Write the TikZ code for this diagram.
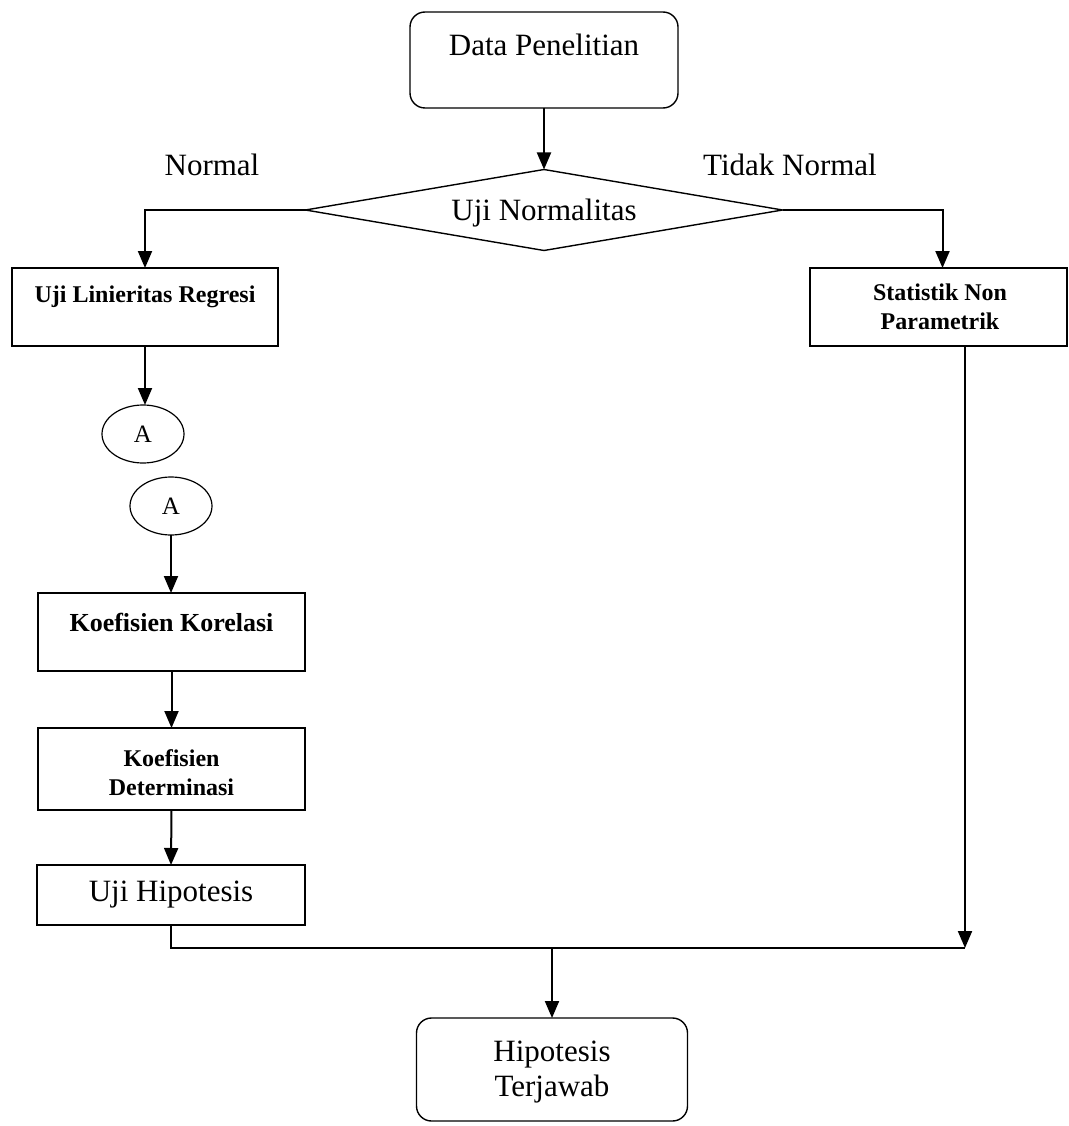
\documentclass[tikz,border=0pt]{standalone}
\usepackage{fontspec}
\setmainfont{Liberation Serif}
\usetikzlibrary{arrows.meta,shapes.geometric}
\tikzset{
  boxline/.style={draw=black, line width=1.4pt, inner sep=0pt, outer sep=0pt},
  sqbox/.style={boxline, rectangle},
  rbox/.style={boxline, rectangle, rounded corners=15pt},
  conn/.style={draw=black, line width=2pt},
  arr/.style={conn, -{Triangle[length=17pt,width=14pt]}},
  bigtxt/.style={inner sep=0pt, font=\fontsize{31}{35}\selectfont, align=center},
  boldtxt/.style={inner sep=0pt, font=\fontsize{24}{29}\selectfont\bfseries, align=center},
  connector/.style={boxline, ellipse, line width=1.2pt, minimum width=82pt, minimum height=58pt, font=\fontsize{25}{28}\selectfont}
}
\begin{document}
\begin{tikzpicture}[x=1pt,y=-1pt]
\useasboundingbox (0,0) rectangle (1068,1126);
% start
\node[rbox, minimum width=268pt, minimum height=96pt] (dp) at (544,60) {};
\node[bigtxt] (dpt) at (544,45) {Data Penelitian};
% decision
\node[boxline, diamond, minimum width=477pt, minimum height=81pt] (diam) at (544,210) {};
\node[bigtxt] (diamt) at (544,213) {Uji Normalitas};
\node[bigtxt] (lnormal) at (212,165) {Normal};
\node[bigtxt] (ltidak) at (790,165) {Tidak Normal};
% left column
\node[sqbox, minimum width=266pt, minimum height=78pt] (lin) at (145,307) {};
\node[boldtxt] (lint) at (145,297) {Uji Linieritas Regresi};
\node[connector] (a1) at (143,434) {A};
\node[connector] (a2) at (171,506) {A};
\node[sqbox, minimum width=267pt, minimum height=78pt] (kk) at (171.5,632) {};
\node[boldtxt, font=\fontsize{26}{30}\selectfont\bfseries] (kkt) at (171.5,622) {Koefisien Korelasi};
\node[sqbox, minimum width=267pt, minimum height=82pt] (kd) at (171.5,769) {};
\node[boldtxt] (kdt) at (171.5,773) {Koefisien\\Determinasi};
\node[sqbox, minimum width=268pt, minimum height=60pt] (uh) at (171,895) {};
\node[bigtxt] (uht) at (171,895) {Uji Hipotesis};
% right column
\node[sqbox, minimum width=257pt, minimum height=78pt] (snp) at (938.5,307) {};
\node[boldtxt] (snpt) at (940,307) {Statistik Non\\Parametrik};
% end
\node[rbox, minimum width=271pt, minimum height=103pt] (ht) at (552,1069.5) {};
\node[bigtxt] (htt) at (552,1072) {Hipotesis\\Terjawab};
% junction coordinates
\coordinate (m) at (552,948);
\coordinate (r) at (965,948);
% connectors
\draw[arr] (dp.south) -- (diam.north);
\draw[arr] (diam.west) -| (lin.north);
\draw[arr] (diam.east) -| ([xshift=4pt]snp.north);
\draw[arr] (lin.south) -- (lin.south |- a1.north);
\draw[arr] (a2.south) -- (a2.south |- kk.north);
\draw[arr] (kk.south) -- (kd.north);
\draw[arr] (kd.south) -- (uh.north);
\draw[conn] (uh.south) |- (r);
\draw[arr] (r |- snp.south) -- (r);
\draw[arr] (m) -- (m |- ht.north);
\end{tikzpicture}
\end{document}
